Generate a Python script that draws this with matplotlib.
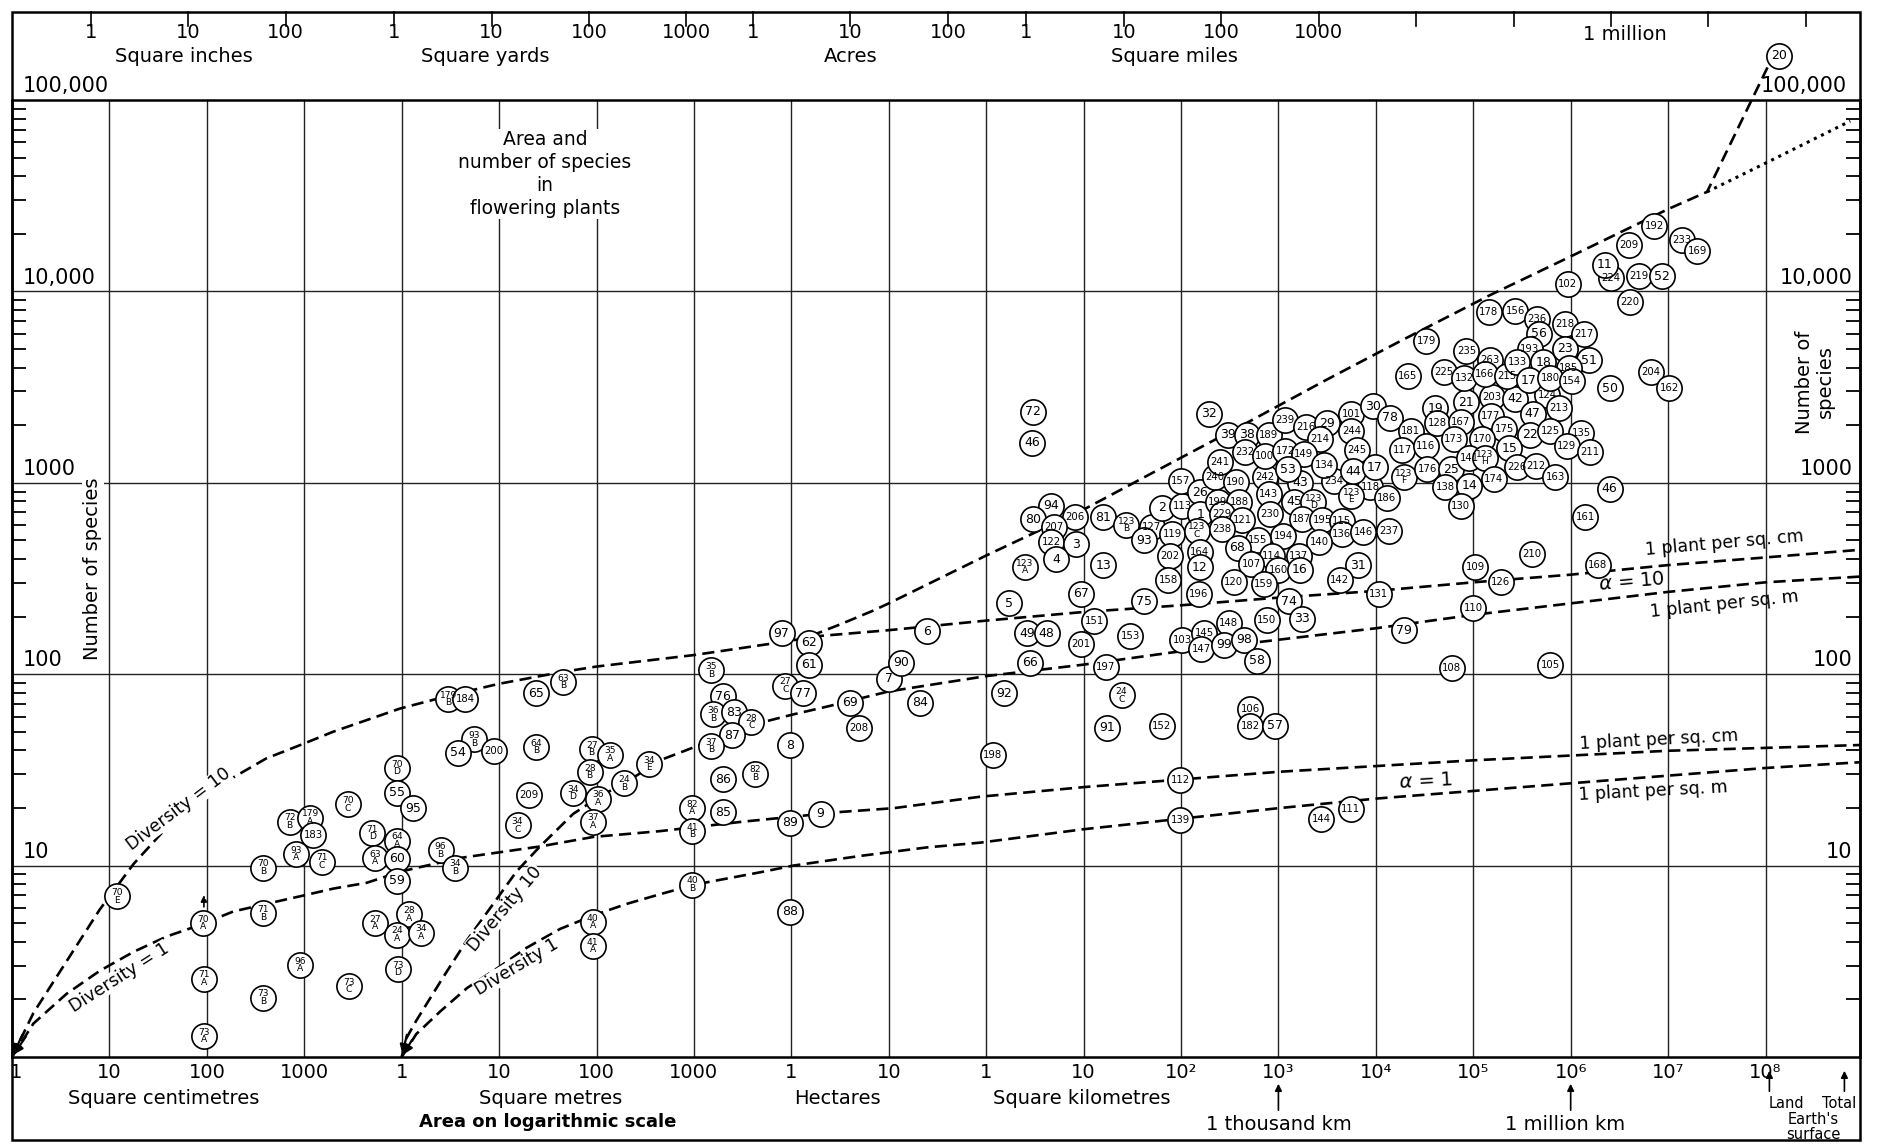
import numpy as np
import matplotlib
matplotlib.use("Agg")
import matplotlib.pyplot as plt
from matplotlib import font_manager
from matplotlib.patches import Rectangle
from matplotlib.transforms import blended_transform_factory
from matplotlib.ticker import FixedLocator, NullLocator, LogLocator

# ---------------------------------------------------------------------------
# Species-area records: log10(area in cm^2), log10(number of species)
# ---------------------------------------------------------------------------
plots_labels = [
    "70\nE", "70\nA", "71\nA", "73\nA", "70\nB", "71\nB", "73\nB", "72\nB",
    "179\nA", "183", "93\nA", "71\nC", "96\nA", "70\nC", "73\nC", "71\nD",
    "63\nA", "64\nA", "60", "59", "70\nD", "55", "95", "27\nA",
    "28\nA", "24\nA", "34\nA", "73\nD", "96\nB", "34\nB", "179\nB", "184",
    "93\nB", "54", "200", "65", "63\nB", "64\nB", "209", "34\nC",
    "27\nB", "35\nA", "28\nB", "24\nB", "34\nD", "36\nA", "37\nA", "34\nE",
    "40\nA", "41\nA", "35\nB", "76", "36\nB", "83", "28\nC", "87",
    "37\nB", "86", "82\nB", "82\nA", "41\nB", "85", "40\nB", "97",
    "62", "61", "27\nC", "77", "8", "89", "9", "88",
    "69", "208", "7", "90", "84", "6", "198", "92",
]
plots_log_area = [
    1.08, 1.96, 1.97, 1.97, 2.58, 2.58, 2.58, 2.85,
    3.06, 3.09, 2.92, 3.18, 2.96, 3.45, 3.46, 3.70,
    3.73, 3.95, 3.95, 3.95, 3.95, 3.95, 4.12, 3.73,
    4.08, 3.95, 4.20, 3.96, 4.40, 4.55, 4.48, 4.65,
    4.74, 4.58, 4.95, 5.38, 5.66, 5.38, 5.31, 5.19,
    5.95, 6.14, 5.93, 6.28, 5.76, 6.02, 5.96, 6.54,
    5.96, 5.96, 7.18, 7.30, 7.20, 7.41, 7.59, 7.39,
    7.18, 7.30, 7.63, 6.98, 6.98, 7.30, 6.98, 7.90,
    8.18, 8.18, 7.94, 8.12, 7.99, 7.99, 8.30, 7.99,
    8.60, 8.69, 9.00, 9.13, 9.32, 9.39, 10.07, 10.18,
]
plots_log_species = [
    0.84, 0.70, 0.41, 0.11, 0.99, 0.75, 0.31, 1.23,
    1.25, 1.16, 1.06, 1.02, 0.48, 1.32, 0.37, 1.17,
    1.04, 1.13, 1.035, 0.92, 1.51, 1.38, 1.30, 0.70,
    0.745, 0.64, 0.65, 0.46, 1.08, 0.99, 1.87, 1.87,
    1.66, 1.59, 1.60, 1.90, 1.96, 1.62, 1.37, 1.21,
    1.61, 1.58, 1.49, 1.43, 1.38, 1.35, 1.23, 1.53,
    0.705, 0.58, 2.02, 1.885, 1.79, 1.80, 1.75, 1.68,
    1.625, 1.45, 1.48, 1.30, 1.18, 1.28, 0.90, 2.215,
    2.165, 2.05, 1.94, 1.90, 1.63, 1.225, 1.27, 0.76,
    1.85, 1.72, 1.975, 2.06, 1.85, 2.225, 1.58, 1.90,
]

districts_labels = [
    "72", "46", "94", "80", "206", "207", "122", "3",
    "4", "81", "13", "123\nA", "67", "5", "151", "49",
    "48", "201", "66", "197", "24\nC", "91", "152", "123\nB",
    "127", "93", "119", "2", "113", "157", "26", "240",
    "190", "242", "43", "234", "118", "123\nE", "186", "1",
    "199", "188", "229", "121", "123\nC", "238", "143", "45",
    "123\nD", "230", "187", "195", "115", "136", "146", "237",
    "194", "140", "155", "68", "114", "137", "107", "160",
    "16", "31", "142", "120", "159", "131", "74", "33",
    "150", "202", "164", "12", "158", "196", "75", "153",
    "103", "145", "148", "147", "99", "98", "58", "106",
    "182", "57", "112", "139", "144", "111", "32", "39",
    "38", "189", "239", "216", "29", "101", "244", "214",
    "232", "100", "172", "149", "245", "241", "53", "134",
    "44", "17", "30", "78", "123\nF",
]
districts_log_area = [
    10.48, 10.47, 10.67, 10.48, 10.91, 10.70, 10.67, 10.92,
    10.72, 11.20, 11.20, 10.40, 10.97, 10.23, 11.11, 10.42,
    10.62, 10.97, 10.45, 11.23, 11.39, 11.24, 11.80, 11.44,
    11.70, 11.62, 11.91, 11.81, 12.01, 12.00, 12.19, 12.35,
    12.56, 12.86, 13.22, 13.57, 13.94, 13.75, 14.11, 12.20,
    12.38, 12.60, 12.42, 12.63, 12.16, 12.42, 12.90, 13.16,
    13.36, 12.91, 13.24, 13.45, 13.65, 13.65, 13.87, 14.13,
    13.05, 13.42, 12.79, 12.58, 12.93, 13.21, 12.72, 13.00,
    13.22, 13.82, 13.63, 12.54, 12.85, 14.03, 13.11, 13.24,
    12.88, 11.89, 12.19, 12.19, 11.87, 12.18, 11.62, 11.48,
    12.01, 12.24, 12.49, 12.21, 12.44, 12.65, 12.78, 12.71,
    12.71, 12.96, 11.99, 11.99, 13.44, 13.74, 12.29, 12.48,
    12.68, 12.90, 13.07, 13.28, 13.50, 13.75, 13.75, 13.43,
    12.66, 12.86, 13.07, 13.26, 13.81, 12.40, 13.10, 13.47,
    13.77, 13.99, 13.97, 14.15, 14.29,
]
districts_log_species = [
    3.37, 3.21, 2.88, 2.81, 2.82, 2.77, 2.69, 2.68,
    2.60, 2.82, 2.57, 2.56, 2.42, 2.37, 2.28, 2.215,
    2.215, 2.16, 2.06, 2.04, 1.89, 1.72, 1.73, 2.78,
    2.77, 2.70, 2.73, 2.87, 2.88, 3.01, 2.95, 3.03,
    3.005, 3.03, 3.00, 3.01, 2.98, 2.93, 2.92, 2.835,
    2.90, 2.90, 2.835, 2.805, 2.75, 2.76, 2.94, 2.90,
    2.90, 2.835, 2.81, 2.805, 2.80, 2.73, 2.745, 2.75,
    2.72, 2.69, 2.70, 2.66, 2.62, 2.62, 2.575, 2.545,
    2.545, 2.57, 2.49, 2.48, 2.47, 2.42, 2.38, 2.29,
    2.285, 2.62, 2.64, 2.56, 2.49, 2.42, 2.38, 2.20,
    2.18, 2.215, 2.27, 2.13, 2.155, 2.18, 2.07, 1.82,
    1.73, 1.73, 1.445, 1.24, 1.245, 1.295, 3.36, 3.25,
    3.25, 3.25, 3.33, 3.29, 3.31, 3.36, 3.27, 3.23,
    3.16, 3.14, 3.165, 3.15, 3.17, 3.11, 3.07, 3.095,
    3.06, 3.08, 3.40, 3.34, 3.03,
]

regions_labels = [
    "181", "117", "116", "19", "128", "21", "167", "203",
    "42", "124", "177", "47", "213", "175", "22", "125",
    "173", "170", "15", "176", "25", "141", "123\nH", "174",
    "226", "212", "163", "138", "14", "130", "210", "109",
    "126", "110", "79", "108", "105", "102", "224", "219",
    "52", "220", "179", "178", "156", "236", "56", "218",
    "217", "235", "263", "225", "132", "166", "215", "193",
    "133", "18", "23", "51", "185", "17", "180", "154",
    "50", "204", "162", "165", "135", "129", "211", "46",
    "161", "168", "20", "192", "209", "233", "169", "11",
]
regions_log_area = [
    14.36, 14.27, 14.51, 14.61, 14.63, 14.93, 14.87, 15.19,
    15.43, 15.76, 15.18, 15.61, 15.88, 15.32, 15.58, 15.79,
    14.80, 15.09, 15.37, 14.53, 14.77, 14.96, 15.12, 15.21,
    15.45, 15.64, 15.84, 14.71, 14.96, 14.87, 15.60, 15.02,
    15.28, 15.00, 14.29, 14.78, 15.79, 15.97, 16.41, 16.70,
    16.94, 16.61, 14.52, 15.16, 15.43, 15.65, 15.67, 15.94,
    16.14, 14.93, 15.17, 14.70, 14.91, 15.12, 15.35, 15.58,
    15.45, 15.72, 15.94, 16.19, 15.98, 15.57, 15.79, 16.01,
    16.40, 16.82, 17.01, 14.33, 16.11, 15.96, 16.20, 16.40,
    16.15, 16.28, 18.14, 16.86, 16.60, 17.14, 17.30, 16.35,
]
regions_log_species = [
    3.27, 3.17, 3.19, 3.39, 3.31, 3.42, 3.32, 3.45,
    3.44, 3.46, 3.35, 3.36, 3.39, 3.28, 3.25, 3.27,
    3.23, 3.23, 3.18, 3.07, 3.07, 3.13, 3.13, 3.02,
    3.08, 3.09, 3.03, 2.98, 2.985, 2.88, 2.63, 2.56,
    2.48, 2.345, 2.23, 2.03, 2.05, 4.04, 4.07, 4.08,
    4.08, 3.945, 3.74, 3.89, 3.90, 3.855, 3.78, 3.83,
    3.78, 3.69, 3.64, 3.58, 3.55, 3.57, 3.56, 3.70,
    3.63, 3.63, 3.70, 3.64, 3.60, 3.535, 3.55, 3.53,
    3.495, 3.58, 3.495, 3.56, 3.26, 3.19, 3.16, 2.97,
    2.82, 2.57, 5.23, 4.34, 4.24, 4.27, 4.21, 4.14,
]

# Diversity curves (log10 area cm^2, log10 species)
alpha10_cm_x = [0, 0.22, 0.56, 0.90, 1.25, 1.59, 1.93, 2.27, 2.61, 2.96, 3.30,
                3.64, 3.98, 4.50, 5.00, 5.63, 6.00, 7.00, 7.80, 8.30, 9.00,
                10.0, 11.0, 12.0, 13.0, 14.0, 15.0, 16.0, 17.0, 18.0, 18.97]
alpha10_cm_y = [0, 0.23, 0.50, 0.77, 1.01, 1.20, 1.34, 1.46, 1.56, 1.63, 1.70,
                1.76, 1.82, 1.89, 1.95, 2.01, 2.04, 2.10, 2.16, 2.20, 2.23,
                2.28, 2.325, 2.36, 2.40, 2.435, 2.48, 2.52, 2.57, 2.61, 2.65]

envelope_x = [8.20, 8.50, 8.83, 9.00, 10.0, 10.5, 11.0, 11.7, 12.7, 13.5,
              14.25, 15.17, 16.03, 17.00, 17.40, 17.81, 18.03]
envelope_y = [2.20, 2.26, 2.33, 2.37, 2.62, 2.74, 2.86, 3.05, 3.32, 3.54,
              3.74, 3.98, 4.19, 4.43, 4.52, 4.95, 5.18]

envelope_dotted_x = [17.40, 18.00, 18.87]
envelope_dotted_y = [4.52, 4.67, 4.89]

alpha10_m_x = [4.00, 4.05, 4.15, 4.43, 4.67, 4.94, 5.18, 5.42, 5.76, 6.00,
               6.38, 6.65, 7.06, 7.71, 8.02, 8.36, 9.00, 10.0, 11.0, 12.0,
               13.0, 14.0, 15.0, 16.0, 17.0, 18.0, 18.97]
alpha10_m_y = [0.00, 0.10, 0.19, 0.42, 0.61, 0.80, 0.97, 1.10, 1.27, 1.35,
               1.46, 1.55, 1.63, 1.75, 1.79, 1.83, 1.91, 1.99, 2.05, 2.12,
               2.18, 2.24, 2.31, 2.37, 2.43, 2.48, 2.51]

alpha1_cm_x = [0, 0.22, 0.56, 0.90, 1.25, 1.59, 1.93, 2.27, 2.61, 2.96, 3.30,
               3.64, 4.00, 4.60, 5.42, 5.97, 6.65, 7.51, 8.50, 9.05, 9.94,
               11.0, 12.0, 13.0, 14.0, 15.0, 16.0, 17.0, 18.0, 18.97]
alpha1_cm_y = [0, 0.175, 0.33, 0.45, 0.55, 0.63, 0.69, 0.76, 0.80, 0.84, 0.88,
               0.91, 0.97, 1.04, 1.10, 1.15, 1.18, 1.23, 1.28, 1.30, 1.36,
               1.41, 1.45, 1.49, 1.52, 1.55, 1.575, 1.60, 1.615, 1.63]

alpha1_m_x = [4.00, 4.15, 4.40, 4.67, 5.00, 5.28, 5.63, 5.97, 6.31, 6.65,
              7.00, 7.68, 8.02, 8.70, 9.39, 9.94, 11.0, 12.0, 13.0, 14.0,
              15.0, 16.0, 17.0, 18.0, 18.97]
alpha1_m_y = [0.00, 0.12, 0.24, 0.36, 0.47, 0.57, 0.67, 0.74, 0.80, 0.85,
              0.90, 0.965, 1.00, 1.05, 1.095, 1.12, 1.19, 1.245, 1.30, 1.35,
              1.39, 1.43, 1.47, 1.51, 1.54]

# Axis annotation text
bottom_tick_text = ["1", "10", "100", "1000", "1", "10", "100", "1000",
                    "1", "10", "1", "10", "10²", "10³", "10⁴", "10⁵",
                    "10⁶", "10⁷", "10⁸"]
species_tick_values = [10, 100, 1000, 10000, 100000]
species_tick_text = ["10", "100", "1000", "10,000", "100,000"]

# Unit sizes in cm^2 for the top scale
SQ_INCH = 6.4516
SQ_YARD = 8361.27
ACRE = 4.0469e7
SQ_MILE = 2.58999e10

# ---------------------------------------------------------------------------
available = {f.name for f in font_manager.fontManager.ttflist}
NARROW = "Liberation Sans Narrow" if "Liberation Sans Narrow" in available else "DejaVu Sans"
plt.rcParams["font.family"] = ["DejaVu Sans"]

W, H = 1878, 1145
X_LEFT, X_RIGHT = 12, 1860
Y_TOP, Y_BOT = 100, 1057
XMAX_LOG = 18.97

fig = plt.figure(figsize=(W / 100, H / 100), dpi=100)
fig.patch.set_facecolor("white")
ax = fig.add_axes([X_LEFT / W, 1 - Y_BOT / H, (X_RIGHT - X_LEFT) / W,
                   (Y_BOT - Y_TOP) / H])
ax.set_xscale("log")
ax.set_yscale("log")
ax.set_xlim(1, 10 ** XMAX_LOG)
ax.set_ylim(1, 1e5)

for s in ax.spines.values():
    s.set_linewidth(1.8)
ax.xaxis.set_major_locator(NullLocator())
ax.xaxis.set_minor_locator(NullLocator())
ax.yaxis.set_major_locator(FixedLocator([1, 10, 100, 1e3, 1e4, 1e5]))
ax.yaxis.set_minor_locator(LogLocator(base=10, subs=np.arange(2, 10), numticks=20))
ax.tick_params(axis="y", which="both", direction="in", left=True, right=True,
               labelleft=False, labelright=False)
ax.tick_params(axis="y", which="major", length=0)
ax.tick_params(axis="y", which="minor", length=10, width=1.3)
ax.tick_params(axis="x", which="both", length=0, labelbottom=False)

# Grid
for d in range(1, 19):
    ax.axvline(10.0 ** d, color="#222222", lw=1.0, zorder=1)
for d in range(1, 5):
    ax.axhline(10.0 ** d, color="#222222", lw=1.0, zorder=1)

# Outer frame
fig.add_artist(Rectangle((X_LEFT / W, 1 - 1140 / H), (X_RIGHT - X_LEFT) / W,
                         (1140 - 12) / H, transform=fig.transFigure,
                         fill=False, lw=1.8, color="black"))

def ay(Y):
    return (Y_BOT - Y) / (Y_BOT - Y_TOP)

tx = blended_transform_factory(ax.transData, ax.transAxes)
ty = blended_transform_factory(ax.transAxes, ax.transData)

# Curves
dash = dict(color="black", lw=1.9, linestyle=(0, (4.6, 2.4)), zorder=3,
            solid_capstyle="butt", dash_capstyle="butt")
def curve(xs, ys, **kw):
    style = dict(dash)
    style.update(kw)
    ax.plot(10 ** np.asarray(xs), 10 ** np.asarray(ys), clip_on=False, **style)

curve(alpha10_cm_x, alpha10_cm_y)
curve(envelope_x, envelope_y)
curve(envelope_dotted_x, envelope_dotted_y, linestyle=(0, (1.0, 1.6)), lw=2.2)
curve(alpha10_m_x, alpha10_m_y)
curve(alpha1_cm_x, alpha1_cm_y)
curve(alpha1_m_x, alpha1_m_y)

# Arrow heads where the curves meet the 1-species line
arrow_kw = dict(arrowstyle="-|>", color="black", lw=1.6, mutation_scale=14)
for (x0, y0, x1, y1) in [(0.12, 0.13, 0.0, 0.0), (0.16, 0.12, 0.0, 0.0),
                         (4.06, 0.13, 4.0, 0.0), (4.12, 0.10, 4.0, 0.0)]:
    ax.annotate("", xy=(10 ** x1, 10 ** y1), xytext=(10 ** x0, 10 ** y0),
                arrowprops=arrow_kw, annotation_clip=False, zorder=3)
ax.annotate("", xy=(10 ** 1.97, 10 ** 0.86), xytext=(10 ** 1.97, 10 ** 0.77),
            arrowprops=dict(arrowstyle="-|>", color="black", lw=1.2,
                            linestyle="--", mutation_scale=9), zorder=3)

# Curve captions
cap = dict(fontsize=12.5, ha="center", va="center", rotation_mode="anchor",
           zorder=3.5)
white = dict(facecolor="white", edgecolor="none", pad=0.3)
ax.text(10 ** 1.71, 10 ** 1.295, "Diversity = 10", rotation=37, bbox=white, **cap)
ax.text(10 ** 1.10, 10 ** 0.415, "Diversity = 1", rotation=32.5, bbox=white, **cap)
ax.text(10 ** 5.06, 10 ** 0.775, "Diversity 10", rotation=50, bbox=white, **cap)
ax.text(10 ** 5.18, 10 ** 0.47, "Diversity 1", rotation=31, bbox=white, **cap)
ax.text(10 ** 17.58, 10 ** 2.685, "1 plant per sq. cm", rotation=5, **cap)
ax.text(10 ** 16.63, 10 ** 2.485, r"$\alpha$ = 10", rotation=5, fontsize=14,
        ha="center", va="center", rotation_mode="anchor", zorder=3.5)
ax.text(10 ** 17.58, 10 ** 2.365, "1 plant per sq. m", rotation=6, **cap)
ax.text(10 ** 16.91, 10 ** 1.655, "1 plant per sq. cm", rotation=3, **cap)
ax.text(10 ** 14.51, 10 ** 1.44, r"$\alpha$ = 1", rotation=3, fontsize=14,
        ha="center", va="center", rotation_mode="anchor", zorder=3.5)
ax.text(10 ** 16.85, 10 ** 1.39, "1 plant per sq. m", rotation=3, **cap)

# Title block
ax.text(10 ** 5.47, ay(174), "Area and\nnumber of species\nin\nflowering plants",
        transform=tx, ha="center", va="center", fontsize=13.5,
        linespacing=1.25, bbox=dict(facecolor="white", edgecolor="none", pad=1),
        zorder=2)

# Circled record numbers
def circles(lbls, xs, ys):
    px = 10 ** np.asarray(xs)
    py = 10 ** np.asarray(ys)
    ax.scatter(px, py, s=330, facecolors="white", edgecolors="black",
               linewidths=1.2, zorder=4, clip_on=False)
    for t, x, y in zip(lbls, px, py):
        if "\n" in t:
            fs, ls = 6.6, 0.8
        elif len(t) >= 3:
            fs, ls = (8.4 if NARROW != "DejaVu Sans" else 7.3), 1.0
        else:
            fs, ls = 9.0, 1.0
        ax.text(x, y, t, ha="center", va="center", fontsize=fs,
                linespacing=ls, family=NARROW, zorder=5, clip_on=False)

circles(plots_labels, plots_log_area, plots_log_species)
circles(districts_labels, districts_log_area, districts_log_species)
circles(regions_labels, regions_log_area, regions_log_species)

# Species labels, left and right
for v, t in zip(species_tick_values, species_tick_text):
    ax.text(0.006, v * 10 ** 0.02, t, transform=ty, ha="left", va="bottom",
            fontsize=15, clip_on=False)
    ax.text(0.993 if v == 1e5 else 0.996, v * 10 ** 0.02, t, transform=ty,
            ha="right", va="bottom", fontsize=15, clip_on=False)
ax.text(0.0438, ay(569), "Number of species", transform=ax.transAxes,
        rotation=90, ha="center", va="center", fontsize=14,
        bbox=dict(facecolor="white", edgecolor="none", pad=1))
ax.text(0.9757, ay(382), "Number of\nspecies", transform=ax.transAxes,
        rotation=90, ha="center", va="center", fontsize=14,
        multialignment="center", linespacing=1.1)

# Top scale: square inches, yards, acres, miles
top_ticks = []
for unit, vals in [(SQ_INCH, [1, 10, 100]), (SQ_YARD, [1, 10, 100, 1000]),
                   (ACRE, [1, 10, 100]),
                   (SQ_MILE, [1, 10, 100, 1000, 1e4, 1e5, 1e6, 1e7, 1e8])]:
    for v in vals:
        top_ticks.append(v * unit)
for t in top_ticks:
    ax.plot([t, t], [ay(12), ay(26)], transform=tx, color="black", lw=1.2,
            clip_on=False)
top_text = [(SQ_INCH, ["1", "10", "100"]), (SQ_YARD, ["1", "10", "100", "1000"]),
            (ACRE, ["1", "10", "100"]), (SQ_MILE, ["1", "10", "100", "1000"])]
for unit, names in top_text:
    for n in names:
        ax.text(float(n) * unit, ay(32), n, transform=tx, ha="center",
                va="center", fontsize=14)
ax.text(1e6 * SQ_MILE * 10 ** 0.14, ay(34), "1 million", transform=tx,
        ha="center", va="center", fontsize=14)
for xl, name in [(1.76, "Square inches"), (4.86, "Square yards"),
                 (8.61, "Acres"), (11.93, "Square miles")]:
    ax.text(10 ** xl, ay(57), name, transform=tx, ha="center", va="center",
            fontsize=14)

# Bottom scale
for i, t in enumerate(bottom_tick_text):
    xpos = 10 ** (i if i > 0 else 0.04)
    ax.text(xpos, ay(1072), t, transform=tx, ha="center", va="center",
            fontsize=14)
for xl, name in [(1.56, "Square centimetres"), (5.53, "Square metres"),
                 (8.47, "Hectares"), (10.98, "Square kilometres")]:
    ax.text(10 ** xl, ay(1098), name, transform=tx, ha="center", va="center",
            fontsize=14)
ax.text(10 ** 5.50, ay(1122), "Area on logarithmic scale", transform=tx,
        ha="center", va="center", fontsize=13, fontweight="bold")
for xl, name in [(13.0, "1 thousand km"), (15.94, "1 million km")]:
    ax.text(10 ** xl, ay(1125), name, transform=tx, ha="center", va="center",
            fontsize=14)
for xl in (13.0, 16.0):
    ax.annotate("", xy=(10 ** xl, ay(1081)), xytext=(10 ** xl, ay(1113)),
                xycoords=tx, textcoords=tx,
                arrowprops=dict(arrowstyle="-|>", color="black", lw=1.2,
                                mutation_scale=10), annotation_clip=False)
for xl in (18.04, 18.81):
    ax.annotate("", xy=(10 ** xl, ay(1068)), xytext=(10 ** xl, ay(1094)),
                xycoords=tx, textcoords=tx,
                arrowprops=dict(arrowstyle="-|>", color="black", lw=1.2,
                                mutation_scale=10), annotation_clip=False)
ax.text(10 ** 18.22, ay(1103), "Land", transform=tx, ha="center", va="center",
        fontsize=10.5)
ax.text(10 ** 18.76, ay(1103), "Total", transform=tx, ha="center", va="center",
        fontsize=10.5)
ax.text(10 ** 18.49, ay(1127), "Earth's\nsurface", transform=tx, ha="center",
        va="center", fontsize=10.5, linespacing=0.95)

fig.savefig("out.png", dpi=100, facecolor="white")
